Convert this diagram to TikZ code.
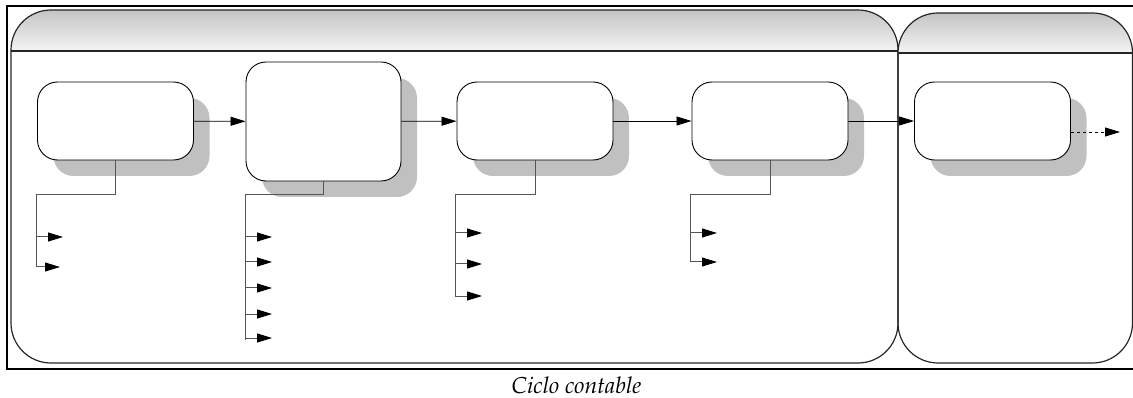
\documentclass[tikz,border=0pt]{standalone}
\usepackage[T1]{fontenc}
\usepackage{mathpazo}
\usetikzlibrary{arrows.meta,shadows}
\definecolor{shadowgray}{HTML}{C0C0C0}
\definecolor{hdtop}{HTML}{C4C4C4}
\definecolor{hdbot}{HTML}{F4F4F4}
\definecolor{branchgray}{HTML}{555555}
\tikzset{
  lane/.style={draw=black!85, line width=1.2pt, rounded corners=40pt},
  stepbox/.style={draw=black, line width=0.9pt, rounded corners=20pt, fill=white,
    minimum width=156pt, minimum height=78pt, inner sep=0pt,
    drop shadow={shadow xshift=16pt, shadow yshift=-16pt, fill=shadowgray, opacity=1, rounded corners=20pt}},
  flow/.style={draw=black, line width=0.8pt, -{Triangle[length=15pt,width=9pt]}},
  branch/.style={draw=branchgray, line width=1pt},
  leaf/.style={draw=branchgray, line width=1pt, -{Triangle[length=15pt,width=9pt,fill=black,color=black]}},
}
\begin{document}
\begin{tikzpicture}[x=1pt,y=-1pt]
\useasboundingbox (0,0) rectangle (1133,398);
% outer frame (right side cut off)
\draw[line width=2pt] (1134,6) -- (7,6) -- (7,369) -- (1134,369);
% lane 1
\begin{scope}
  \clip[rounded corners=40pt] (11,10) rectangle (898,363);
  \shade[top color=hdtop, bottom color=hdbot] (11,10) rectangle (898,51);
\end{scope}
\draw[lane] (11,10) rectangle (898,363);
\draw[line width=1.2pt, black!85] (11,51) -- (898,51);
% lane 2
\begin{scope}
  \clip[rounded corners=40pt] (898,13) rectangle (1132.5,363);
  \shade[top color=hdtop, bottom color=hdbot] (898,13) rectangle (1132.5,53);
\end{scope}
\draw[lane] (898,13) rectangle (1132.5,363);
\draw[line width=1.2pt, black!85] (898,53) -- (1133,53);
% boxes
\node[stepbox] (b1) at (115.5,121) {};
\node[stepbox, minimum width=155pt, minimum height=119pt] (b2) at (323.5,121.5) {};
\node[stepbox] (b3) at (535,121) {};
\node[stepbox] (b4) at (770,121) {};
\node[stepbox] (b5) at (992.5,121) {};
% main flow
\draw[flow] (b1) -- (b2);
\draw[flow] (b2) -- (b3);
\draw[flow] (b3) -- (b4);
\draw[flow] (b4) -- (b5);
\coordinate (next) at (1120,132);
\draw[flow, dashed] (b5.east |- next) -- (next);
% branches box 1
\coordinate (k1) at (36,195);
\coordinate (k1e) at (36,267);
\draw[branch] (b1.south) |- (k1) -- (k1e);
\coordinate (l11) at (63,237); \coordinate (l12) at (60,267);
\draw[leaf] (k1 |- l11) -- (l11);
\draw[leaf] (k1e) -- (l12);
% branches box 2
\coordinate (k2) at (245,195);
\coordinate (k2e) at (245,340);
\draw[branch] (b2.south) |- (k2) -- (k2e);
\foreach \yy/\nm in {237/a,262/b,288/c,314/d,338/e}{
  \coordinate (l2\nm) at (272,\yy);
  \draw[leaf] (k2 |- l2\nm) -- (l2\nm);
}
% branches box 3
\coordinate (k3) at (455,195);
\coordinate (k3e) at (455,296);
\draw[branch] (b3.south) |- (k3) -- (k3e);
\foreach \yy/\nm in {233/a,264/b,296/c}{
  \coordinate (l3\nm) at (482,\yy);
  \draw[leaf] (k3 |- l3\nm) -- (l3\nm);
}
% branches box 4
\coordinate (k4) at (690,195);
\coordinate (k4e) at (690,262);
\draw[branch] (b4.south) |- (k4) -- (k4e);
\foreach \yy/\nm in {233/a,262/b}{
  \coordinate (l4\nm) at (717,\yy);
  \draw[leaf] (k4 |- l4\nm) -- (l4\nm);
}
% caption
\node[font=\itshape\fontsize{23}{27}\selectfont] (cap) at (576.5,385.5) {Ciclo contable};
\end{tikzpicture}
\end{document}
